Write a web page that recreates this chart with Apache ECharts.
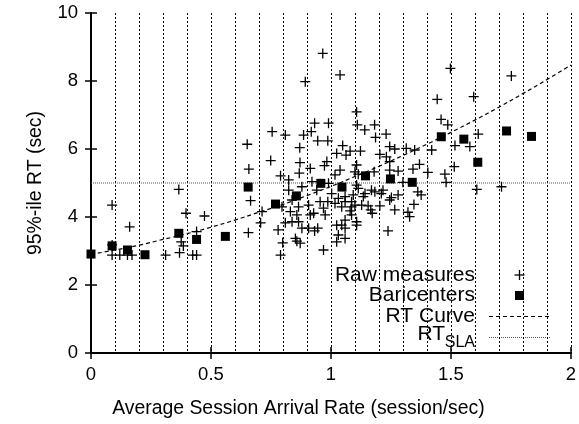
<!DOCTYPE html>
<html>
<head>
<meta charset="utf-8">
<script src="https://cdn.jsdelivr.net/npm/echarts@6/dist/echarts.min.js"></script>
<style>html,body{margin:0;padding:0;background:#fff}#c{width:579px;height:424px}</style>
</head>
<body>
<div id="c"></div>
<script>
const xTickLabels = ['0','0.5','1','1.5','2'];
const yTickLabels = ['0','2','4','6','8','10'];
const legendLabels = ['Raw measures','Baricenters','RT Curve','RT'];
const legendSub = 'SLA';

const rawRate = [0.088,0.161,0.088,0.088,0.120,0.152,0.171,0.311,0.369,0.366,0.396,0.473,0.440,0.376,0.385,0.424,0.440,
0.651,0.658,0.665,0.656,0.713,0.707,0.755,0.749,0.790,0.780,0.799,0.790,0.810,0.824,0.824,0.796,0.838,0.831,0.838,0.810,0.858,0.852,0.858,0.872,0.879,0.870,0.871,0.868,0.886,0.893,0.865,0.865,0.879,
0.907,0.914,0.928,0.969,0.955,0.976,0.987,1.017,1.031,1.059,0.907,0.932,0.945,1.024,1.045,1.059,1.031,1.024,1.059,0.969,1.003,0.990,0.921,0.941,1.017,1.038,0.914,0.983,0.973,1.024,1.063,1.049,0.945,0.987,0.918,0.932,0.990,0.966,1.038,
1.107,1.110,1.141,1.182,1.186,1.230,1.080,1.123,1.204,1.231,1.245,1.266,1.314,1.349,1.420,1.517,1.579,1.245,1.369,1.342,1.280,1.245,1.107,1.100,1.114,1.180,1.404,1.475,1.480,1.514,1.300,1.107,1.114,1.169,1.183,1.217,1.210,1.142,1.135,1.252,1.280,1.245,1.362,1.376,1.093,1.086,1.346,1.321,1.328,1.266,1.080,1.086,1.059,1.107,1.107,1.238,1.166,1.172,1.059,1.045,1.086,1.100,1.128,1.155,1.204,
1.498,1.752,1.443,1.595,1.459,1.487,1.614,1.608,1.711];
const rawRT = [4.35,3.71,3.18,2.88,2.88,2.88,2.88,2.88,2.95,4.81,4.11,4.03,3.57,3.27,3.15,2.88,2.88,
6.14,5.41,4.48,3.54,4.16,3.83,6.51,5.66,5.21,3.62,3.24,2.88,6.41,5.09,4.79,4.30,4.50,4.16,3.86,3.83,4.06,3.37,3.29,3.23,3.67,6.04,5.60,5.29,6.41,7.98,4.30,3.86,4.89,
4.35,4.06,4.11,4.26,4.45,4.06,4.45,4.40,4.55,4.45,3.67,3.59,3.67,3.76,3.76,3.91,3.47,3.27,3.37,3.03,4.69,4.99,5.04,4.79,5.24,5.38,5.43,5.63,5.51,5.87,5.82,6.10,6.24,6.24,6.51,6.76,6.76,8.81,8.18,
7.09,6.71,6.56,6.71,6.34,6.44,5.94,5.94,5.84,5.77,6.07,6.00,6.02,5.97,5.97,6.10,6.07,5.63,5.55,5.41,5.35,5.38,5.53,5.33,5.26,5.33,5.31,5.26,5.02,5.48,5.02,4.94,4.84,4.79,4.74,4.79,4.69,4.69,4.60,4.57,4.65,4.50,4.74,4.65,4.65,4.45,4.37,4.14,4.01,4.21,4.18,4.06,3.67,3.86,3.76,3.59,4.21,4.11,4.60,4.30,4.30,4.35,4.35,4.33,4.33,
8.37,8.15,7.46,7.54,6.87,6.71,6.44,4.81,4.89];

const bariRate = [0,0.088,0.152,0.225,0.366,0.440,0.560,0.655,0.769,0.856,0.958,1.046,1.144,1.248,1.339,1.460,1.554,1.612,1.732,1.836];
const bariRT   = [2.91,3.15,3.03,2.89,3.52,3.34,3.43,4.88,4.38,4.62,4.99,4.88,5.21,5.12,5.02,6.36,6.29,5.61,6.53,6.37];

const curveRate = [0,0.1,0.2,0.3,0.4,0.5,0.6,0.7,0.8,0.9,1.0,1.1,1.2,1.3,1.4,1.5,1.6,1.7,1.8,1.9,2.0];
const curveRT   = [2.90,3.03,3.17,3.34,3.51,3.70,3.91,4.14,4.37,4.63,4.90,5.19,5.49,5.81,6.14,6.49,6.85,7.23,7.63,8.04,8.47];

const slaRate = [0,2];
const slaRT = [5,5];

const zip = (a,b) => a.map((v,i) => [v,b[i]]);
const FONT = 'Liberation Sans';
const plusPath = 'path://M0,4.35H10V5.65H0Z M4.35,0H5.65V10H4.35Z';
const dotted = {color:'#000', type:[2,2], width:1};
const curveStyle = {color:'#000', width:1.2, type:[4,3]};
const slaStyle = {color:'#555', width:1, type:[1,1]};

// legend drawn with graphic elements (gnuplot style: right-aligned text, sample on the right)
const LX = 475, SX = 519.5, L0 = 489, L1 = 550;
const rowY = [275, 295.5, 316.5, 337.5];
const txt = (s, x, y, size) => ({type:'text', x:x, y:y, style:{text:s, fontFamily:FONT, fontSize:size, fill:'#000', align:'right', verticalAlign:'middle'}});
const graphics = [
  txt(legendLabels[0], LX, rowY[0], 21),
  {type:'rect', shape:{x:SX-5, y:rowY[0]-0.65, width:10, height:1.3}, style:{fill:'#000'}},
  {type:'rect', shape:{x:SX-0.65, y:rowY[0]-5, width:1.3, height:10}, style:{fill:'#000'}},
  txt(legendLabels[1], LX, rowY[1], 21),
  {type:'rect', shape:{x:SX-4.5, y:rowY[1]-4.5, width:9, height:9}, style:{fill:'#000'}},
  txt(legendLabels[2], LX, rowY[2], 21),
  {type:'line', shape:{x1:L0, y1:rowY[2], x2:L1, y2:rowY[2]}, style:{stroke:curveStyle.color, lineWidth:curveStyle.width, lineDash:curveStyle.type}},
  txt(legendLabels[3], 445, rowY[3]-3.5, 21),
  txt(legendSub, LX, rowY[3]+5, 16),
  {type:'line', shape:{x1:L0, y1:rowY[3], x2:L1, y2:rowY[3]}, style:{stroke:slaStyle.color, lineWidth:slaStyle.width, lineDash:slaStyle.type}}
];

const chart = echarts.init(document.getElementById('c'), null, {renderer:'canvas'});
chart.setOption({
  animation:false,
  backgroundColor:'#fff',
  grid:{left:91, right:5, top:13, bottom:71},
  xAxis:[{
    type:'value', min:0, max:2, interval:0.5, position:'bottom',
    name:'Average Session Arrival Rate (session/sec)', nameLocation:'middle', nameGap:46,
    nameTextStyle:{fontFamily:FONT, fontSize:19.4, color:'#000', padding:[0,65,0,0]},
    axisLine:{lineStyle:{color:'#000', width:2}},
    axisTick:{inside:true, length:6, lineStyle:{color:'#000', width:1.5}},
    axisLabel:{fontFamily:FONT, fontSize:18.5, color:'#000', margin:12, formatter:(v,i)=>xTickLabels[i]},
    splitLine:{show:true, lineStyle:dotted},
    minorTick:{show:false, splitNumber:5},
    minorSplitLine:{show:true, lineStyle:dotted}
  },{
    type:'value', min:0, max:2, interval:0.5, position:'top',
    axisLine:{lineStyle:{color:'#000', width:2}},
    axisTick:{inside:true, length:6, lineStyle:{color:'#000', width:1.5}},
    axisLabel:{show:false}, splitLine:{show:false}
  }],
  yAxis:[{
    type:'value', min:0, max:10, interval:2, position:'left',
    name:'95%-ile RT (sec)', nameLocation:'middle', nameGap:46,
    nameTextStyle:{fontFamily:FONT, fontSize:19.4, color:'#000'},
    axisLine:{lineStyle:{color:'#000', width:2}},
    axisTick:{inside:true, length:6, lineStyle:{color:'#000', width:1.5}},
    axisLabel:{fontFamily:FONT, fontSize:18.5, color:'#000', margin:13, formatter:(v,i)=>yTickLabels[i]},
    splitLine:{show:false}
  },{
    type:'value', min:0, max:10, interval:2, position:'right',
    axisLine:{lineStyle:{color:'#000', width:2}},
    axisTick:{inside:true, length:6, lineStyle:{color:'#000', width:1.5}},
    axisLabel:{show:false}, splitLine:{show:false}
  }],
  graphic: graphics,
  series:[
    {name:'RT_SLA', type:'line', data:zip(slaRate, slaRT), symbol:'none', z:1, lineStyle:slaStyle},
    {name:'RT Curve', type:'line', data:zip(curveRate, curveRT), symbol:'none', smooth:true, z:2, lineStyle:curveStyle},
    {name:'Raw measures', type:'scatter', data:zip(rawRate, rawRT), symbol:plusPath, symbolSize:10, z:3,
     itemStyle:{color:'#000', opacity:1}},
    {name:'Baricenters', type:'scatter', data:zip(bariRate, bariRT), symbol:'rect', symbolSize:9, z:4,
     itemStyle:{color:'#000', opacity:1}}
  ]
});
</script>
</body>
</html>
